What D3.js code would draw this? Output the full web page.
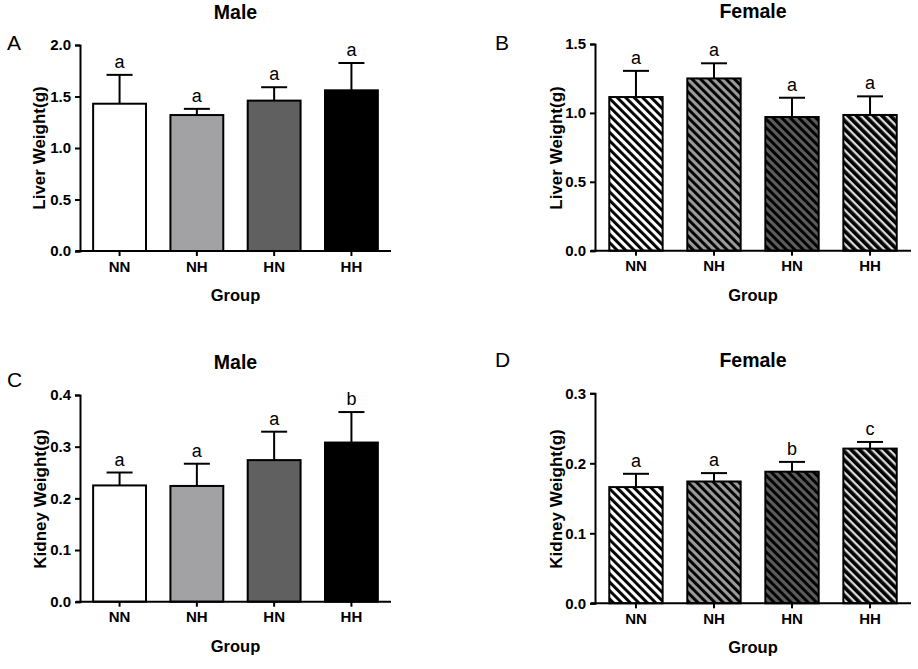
<!DOCTYPE html>
<html><head><meta charset="utf-8">
<script src="https://cdn.jsdelivr.net/npm/d3@7"></script>
<style>
html,body{margin:0;padding:0;background:#fff;}
text{font-family:"Liberation Sans",Arial,sans-serif;}
</style></head>
<body><div id="chart"></div>
<script>
const groups = ["NN", "NH", "HN", "HH"];
const maleLiver = [1.43, 1.32, 1.46, 1.56];
const maleLiverErr = [0.28, 0.06, 0.13, 0.265];
const femaleLiver = [1.115, 1.25, 0.97, 0.985];
const femaleLiverErr = [0.19, 0.11, 0.14, 0.135];
const maleKidney = [0.225, 0.224, 0.274, 0.308];
const maleKidneyErr = [0.025, 0.043, 0.055, 0.059];
const femaleKidney = [0.166, 0.174, 0.188, 0.221];
const femaleKidneyErr = [0.019, 0.012, 0.014, 0.0095];
const sigA = ["a", "a", "a", "a"];
const sigB = ["a", "a", "a", "a"];
const sigC = ["a", "a", "a", "b"];
const sigD = ["a", "a", "b", "c"];
const ticksLiverMale = [0, 0.5, 1.0, 1.5, 2.0];
const ticksLiverFemale = [0, 0.5, 1.0, 1.5];
const ticksKidneyMale = [0, 0.1, 0.2, 0.3, 0.4];
const ticksKidneyFemale = [0, 0.1, 0.2, 0.3];

const W = 918, H = 669;
const svg = d3.select("#chart").append("svg").attr("width", W).attr("height", H)
  .style("display", "block").style("background", "#fff");

const defs = svg.append("defs");
function stripePattern(id, bg, stripeW, period) {
  const p = defs.append("pattern").attr("id", id).attr("patternUnits", "userSpaceOnUse")
    .attr("width", period).attr("height", period).attr("patternTransform", "rotate(-45)");
  p.append("rect").attr("width", period).attr("height", period).attr("fill", bg);
  p.append("rect").attr("width", stripeW).attr("height", period).attr("fill", "#000");
}
stripePattern("pNN", "#ffffff", 2.9, 6);
stripePattern("pNH", "#9a9a9a", 2.9, 6);
stripePattern("pHN", "#5c5c5c", 2.9, 6);
stripePattern("pHH", "#dcdcdc", 3.7, 6);
const solidFills = ["#ffffff", "#a2a2a5", "#606060", "#000000"];
const hatchFills = ["url(#pNN)", "url(#pNH)", "url(#pHN)", "url(#pHH)"];

function panel(o) {
  const g = svg.append("g");
  const x = d3.scaleBand().domain(groups).range(o.xr).paddingInner(0.316).paddingOuter(o.po);
  const y = d3.scaleLinear().domain([0, o.ticks[o.ticks.length - 1]]).range(o.yr);

  g.selectAll("rect.bar").data(o.values).join("rect").attr("class", "bar")
    .attr("x", (d, i) => x(groups[i])).attr("width", x.bandwidth())
    .attr("y", d => y(d)).attr("height", d => y(0) - y(d))
    .attr("fill", (d, i) => o.fills[i]).attr("stroke", "#000").attr("stroke-width", 2);

  const eb = g.selectAll("g.err").data(o.values).join("g").attr("class", "err");
  eb.append("line").attr("x1", (d, i) => x(groups[i]) + x.bandwidth() / 2)
    .attr("x2", (d, i) => x(groups[i]) + x.bandwidth() / 2)
    .attr("y1", d => y(d)).attr("y2", (d, i) => y(d + o.errs[i]))
    .attr("stroke", "#000").attr("stroke-width", 2);
  eb.append("line").attr("x1", (d, i) => x(groups[i]) + x.bandwidth() / 2 - 13)
    .attr("x2", (d, i) => x(groups[i]) + x.bandwidth() / 2 + 13)
    .attr("y1", (d, i) => y(d + o.errs[i])).attr("y2", (d, i) => y(d + o.errs[i]))
    .attr("stroke", "#000").attr("stroke-width", 2);
  eb.append("text").attr("x", (d, i) => x(groups[i]) + x.bandwidth() / 2)
    .attr("y", (d, i) => y(d + o.errs[i]) - 7)
    .attr("text-anchor", "middle").attr("font-size", 18).attr("fill", "#000")
    .text((d, i) => o.sig[i]);

  const ya = g.append("g").attr("transform", `translate(${o.xr[0]},0)`)
    .call(d3.axisLeft(y).tickValues(o.ticks).tickFormat(d3.format(".1f")).tickSizeOuter(0).tickSize(5).tickPadding(4));
  const xa = g.append("g").attr("transform", `translate(0,${o.yr[0]})`)
    .call(d3.axisBottom(x).tickSizeOuter(0).tickSize(5).tickPadding(5));
  [ya, xa].forEach(a => {
    a.attr("font-size", 15);
    a.select(".domain").attr("stroke-width", 2).attr("stroke", "#000");
    a.selectAll(".tick line").attr("stroke-width", 2).attr("stroke", "#000");
    a.selectAll(".tick text").attr("font-size", 15).attr("font-weight", "bold")
      .attr("font-family", "Liberation Sans, Arial, sans-serif").attr("fill", "#000");
  });
  xa.select(".domain").attr("d", `M${o.xr[0] - 4},0H${o.xr[1]}`);

  const cx = (o.xr[0] + o.xr[1]) / 2;
  g.append("text").attr("x", cx).attr("y", o.yr[0] + 50).attr("text-anchor", "middle")
    .attr("font-size", 16.5).attr("font-weight", "bold").text("Group");
  g.append("text").attr("transform", `translate(${o.ylx},${o.yly}) rotate(-90)`)
    .attr("text-anchor", "middle").attr("font-size", 17).attr("font-weight", "bold").text(o.ylabel);
  g.append("text").attr("x", cx).attr("y", o.ty).attr("text-anchor", "middle")
    .attr("font-size", 19.5).attr("font-weight", "bold").text(o.title);
  g.append("text").attr("x", o.lx).attr("y", o.ly).attr("font-size", 21).text(o.letter);
}

panel({xr: [80, 391], po: 0.17, yr: [251, 45], ticks: ticksLiverMale, values: maleLiver, errs: maleLiverErr,
  sig: sigA, fills: solidFills, ylabel: "Liver Weight(g)", ylx: 45, yly: 148, title: "Male", ty: 19,
  letter: "A", lx: 7, ly: 50});
panel({xr: [595, 911], po: 0.183, yr: [250.7, 44], ticks: ticksLiverFemale, values: femaleLiver, errs: femaleLiverErr,
  sig: sigB, fills: hatchFills, ylabel: "Liver Weight(g)", ylx: 562, yly: 148, title: "Female", ty: 18,
  letter: "B", lx: 495, ly: 50});
panel({xr: [80, 391], po: 0.17, yr: [601.7, 395], ticks: ticksKidneyMale, values: maleKidney, errs: maleKidneyErr,
  sig: sigC, fills: solidFills, ylabel: "Kidney Weight(g)", ylx: 46, yly: 499, title: "Male", ty: 369,
  letter: "C", lx: 7, ly: 387});
panel({xr: [595, 911], po: 0.183, yr: [603.3, 393.3], ticks: ticksKidneyFemale, values: femaleKidney, errs: femaleKidneyErr,
  sig: sigD, fills: hatchFills, ylabel: "Kidney Weight(g)", ylx: 562, yly: 499, title: "Female", ty: 367,
  letter: "D", lx: 495, ly: 367});
</script></body></html>
